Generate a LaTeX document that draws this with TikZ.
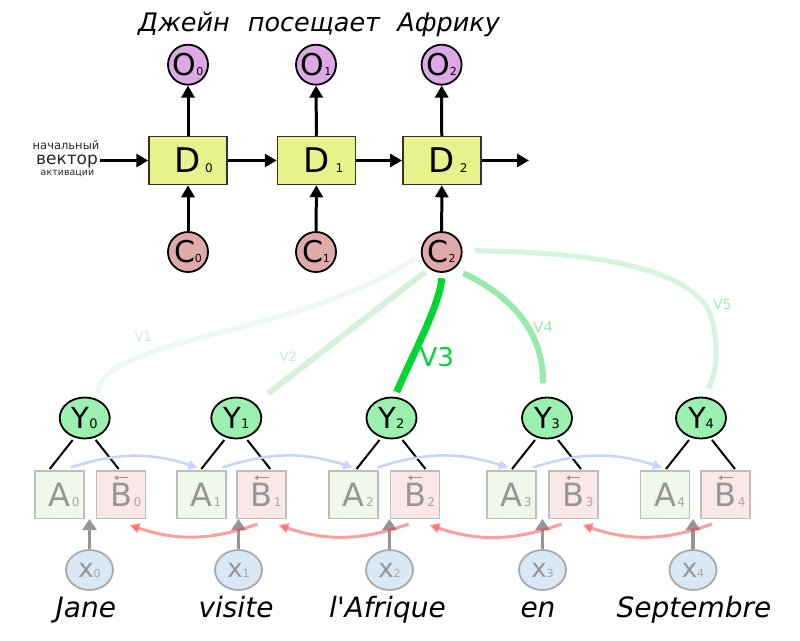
\documentclass[tikz,border=0pt]{standalone}
\usepackage{fontspec}
\setmainfont{DejaVu Sans}
\usetikzlibrary{calc,arrows.meta,shapes.geometric}
\definecolor{ofill}{RGB}{220,168,230}
\definecolor{dfill}{RGB}{232,242,140}
\definecolor{cfill}{RGB}{225,170,170}
\definecolor{yfill}{RGB}{155,240,175}
\definecolor{afill}{RGB}{240,248,234}
\definecolor{bfill}{RGB}{250,232,232}
\definecolor{xfill}{RGB}{216,232,245}
\definecolor{boxline}{RGB}{190,190,190}
\definecolor{xline}{RGB}{170,170,170}
\definecolor{lettergray}{RGB}{150,150,150}
\definecolor{subgray}{RGB}{165,165,165}
\definecolor{bluearc}{RGB}{200,210,255}
\definecolor{redarc}{RGB}{255,60,60}
\definecolor{vone}{RGB}{238,248,240}
\definecolor{vtwo}{RGB}{214,240,220}
\definecolor{vthree}{RGB}{0,214,50}
\definecolor{vfour}{RGB}{150,235,170}
\definecolor{vfive}{RGB}{214,245,224}
\definecolor{vlab}{RGB}{200,238,210}
\definecolor{vlabfive}{RGB}{165,235,185}
\newcommand{\fs}[1]{\fontsize{#1}{#1}\selectfont}
\begin{document}
\begin{tikzpicture}[x=1pt,y=-1pt,
  arr/.style={line width=3pt,-{Triangle[length=12pt,width=13pt]}},
  onode/.style={circle,draw=black,line width=1.8pt,fill=ofill,minimum size=40pt,inner sep=0pt,font=\fs{30},text height=21.9pt,text depth=0pt},
  cnode/.style={onode,fill=cfill},
  dnode/.style={rectangle,draw=black!80,line width=1.5pt,fill=dfill,minimum width=78pt,minimum height=48pt,inner sep=0pt,font=\fs{34},text height=24.8pt,text depth=0pt},
  ynode/.style={ellipse,draw=black,line width=1.8pt,fill=yfill,minimum width=50pt,minimum height=41pt,inner sep=0pt,font=\fs{29},text height=21.1pt,text depth=0pt},
  anode/.style={rectangle,draw=boxline,line width=1.5pt,fill=afill,minimum width=49pt,minimum height=47.5pt,inner sep=0pt,font=\fs{32},text=lettergray,text height=23.3pt,text depth=0pt},
  bnode/.style={anode,fill=bfill},
  xnode/.style={ellipse,draw=xline,line width=1.8pt,fill=xfill,minimum width=47pt,minimum height=40pt,inner sep=0pt,font=\fs{26},text=lettergray,text height=14.2pt,text depth=0pt},
  word/.style={anchor=base,inner sep=0pt,font=\fs{28}\itshape},
  title/.style={anchor=base,inner sep=0pt,font=\fs{25.5}\itshape},
  yl/.style={line width=2pt,black},
  barc/.style={line width=2.5pt,bluearc,-{Triangle[length=9pt,width=9pt]}},
  rarc/.style={line width=3pt,redarc,opacity=0.5,-{Triangle[length=10pt,width=10pt]}},
  garr/.style={line width=3.5pt,lettergray,-{Triangle[length=11pt,width=14pt]}},
  bmark/.style={line width=1.3pt,lettergray,-{Triangle[length=3.5pt,width=4.5pt]}},
  att/.style={line cap=butt}]
\useasboundingbox (0,0) rectangle (800,640);

% title
\node[title] (t0) at (184,31.7) {Джейн};
\node[title] (t1) at (314,31.7) {посещает};
\node[title] (t2) at (448.6,31.7) {Африку};

% top row
\node[onode] (O0) at (188,64.7) {O{\fs{11}0}};
\node[onode] (O1) at (316,64.7) {O{\fs{11}1}};
\node[onode] (O2) at (441.6,64.7) {O{\fs{11}2}};
\node[dnode] (D0) at (188,160.5) {D\rlap{\hspace{4pt}\fs{12}0}};
\node[dnode] (D1) at (316.5,160.5) {D\rlap{\hspace{6pt}\fs{12}1}};
\node[dnode] (D2) at (441.8,160.5) {D\rlap{\hspace{5pt}\fs{12}2}};
\node[cnode] (C0) at (188,252) {C{\fs{11}0}};
\node[cnode] (C1) at (316,252) {C{\fs{11}1}};
\node[cnode] (C2) at (441.7,252) {C{\fs{11}2}};
\coordinate (out) at (529,160.5);

\node[anchor=base,inner sep=0pt,font=\fs{11.5},text=black!85] (lab1) at (66,149.8) {начальный};
\node[anchor=base,inner sep=0pt,font=\fs{17},text=black!85] (lab2) at (67,164.6) {вектор};
\node[anchor=base,inner sep=0pt,font=\fs{9.5},text=black!85] (lab3) at (67.5,175.8) {активации};

\draw[arr] ($(lab2.east |- D0.west)+(2,0)$) -- (D0.west);
\foreach \i in {0,1,2}{
  \draw[arr] (C\i) -- (D\i);
  \draw[arr] (D\i) -- (O\i);
}
\draw[arr] (D0) -- (D1);
\draw[arr] (D1) -- (D2);
\draw[arr] (D2.east) -- (out);

% bottom nodes
\foreach \i/\yx/\ax/\bx/\xx/\wx/\w in {0/84.7/59.5/121.2/89.5/85.8/Jane,1/236.3/201.3/261.5/238.5/236/visite,2/391.5/353.7/415/389.5/387.5/{l\textquotesingle Afrique},3/547/511.5/573.3/542.5/538/en,4/701/665/725.5/693/694/Septembre}{
  \node[ynode] (Y\i) at (\yx,418) {Y{\fs{13}\i}};
  \node[anode] (A\i) at (\ax,494.5) {A\rlap{\hspace{1.5pt}\color{subgray}\fs{12}\i}};
  \node[bnode] (B\i) at (\bx,494.5) {B\rlap{\hspace{1.5pt}\color{subgray}\fs{12}\i}};
  \node[xnode] (X\i) at (\xx,570) {x{\color{subgray}\fs{11}\i}};
  \node[word] (W\i) at (\wx,617) {\w};
  \draw[yl] ($(Y\i.center)+(-12,22)$) -- ($(Y\i.center)+(-35,51)$);
  \draw[yl] ($(Y\i.center)+(11,22)$) -- ($(Y\i.center)+(34,51)$);
  \draw[bmark] ($(B\i.center)+(7,-16.8)$) -- ++(-14,0);
  \draw[garr] (X\i) -- (X\i |- A\i.south);
}
\foreach \i/\j in {0/1,1/2,2/3,3/4}{
  \draw[barc] ($(Y\i.center)+(-14,49.5)$) to[bend left=18] ($(Y\j.center)+(-39,49.5)$);
  \draw[rarc] ($(X\j.center)+(19,-46)$) to[bend left=19] ($(X\i.center)+(40,-45)$);
}

% attention lines
\draw[att,line width=5pt,vone] ($(C2.center)+(-26.7,6)$) .. controls (370,290) and (300,312) .. (230,330) .. controls (130,355) and (98,370) .. ($(Y0.center)+(13.6,-25)$);
\draw[att,line width=6pt,vtwo] ($(C2.center)+(-16.7,20)$) -- ($(Y1.center)+(32,-24.7)$);
\draw[att,line width=7pt,vthree] ($(C2.center)+(0,26.3)$) .. controls (440,305) and (410,360) .. ($(Y2.center)+(5.2,-26)$);
\draw[att,line width=6pt,vfour] ($(C2.center)+(21.6,21.3)$) .. controls (510,295) and (543,330) .. ($(Y3.center)+(-3.7,-34.7)$);
\draw[att,line width=5pt,vfive] ($(C2.center)+(33.3,-1.3)$) .. controls (600,252) and (700,270) .. (712,320) .. controls (718,345) and (718,370) .. ($(Y4.center)+(7.3,-29.7)$);

\node[font=\fs{13},text=vlab,inner sep=0pt] (v1) at (143.3,336.7) {V1};
\node[font=\fs{13},text=vlab,inner sep=0pt] (v2) at (288.3,356.7) {V2};
\node[font=\fs{26},text=vthree,inner sep=0pt] (v3) at (436.7,356.7) {V3};
\node[font=\fs{15},text=vfour,inner sep=0pt] (v4) at (543,327) {V4};
\node[font=\fs{14},text=vlabfive,inner sep=0pt] (v5) at (722.3,304) {V5};
\end{tikzpicture}
\end{document}
